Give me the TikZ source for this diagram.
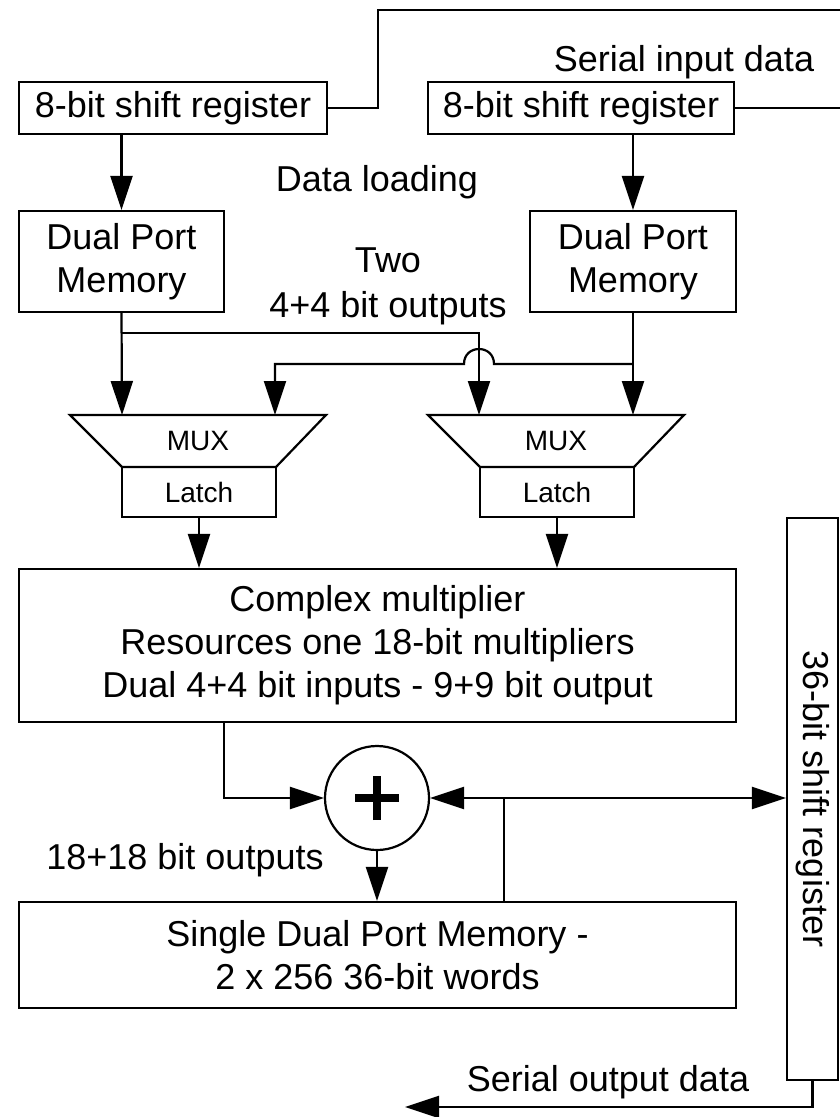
\documentclass[tikz,border=0pt]{standalone}
\usepackage{fontspec}
\setmainfont{Liberation Sans}
\usetikzlibrary{arrows.meta}
\tikzset{
  wire/.style={line width=2.2pt},
  arr/.style={wire,-{Triangle[length=34pt,width=22pt]}},
  box/.style={draw,line width=2.2pt,inner sep=0pt,align=center,font=\fontsize{36}{43}\selectfont},
  lbl/.style={inner sep=0pt,align=center,font=\fontsize{36}{45}\selectfont},
  small/.style={inner sep=0pt,font=\fontsize{28}{34}\selectfont}
}
\begin{document}
\begin{tikzpicture}[x=1pt,y=-1pt]
\useasboundingbox (0,0) rectangle (840,1117);
% boxes
\node[box,minimum width=308,minimum height=52] (sr1) at (173,108) {8-bit shift register};
\node[box,minimum width=306,minimum height=52] (sr2) at (581,108) {8-bit shift register};
\node[box,minimum width=205,minimum height=101] (dpm1) at (121.5,261.5) {Dual Port\\Memory};
\node[box,minimum width=206,minimum height=101] (dpm2) at (633,261.5) {Dual Port\\Memory};
% MUX trapezoids
\draw[wire] (70,415) -- (326,415) -- (276,467) -- (122,467) -- cycle;
\draw[wire] (428,415) -- (684,415) -- (634,467) -- (480,467) -- cycle;
\node[small] (mux1) at (198,441) {MUX};
\node[small] (mux2) at (556,441) {MUX};
\node[box,minimum width=154,minimum height=50,font=\fontsize{28}{34}\selectfont] (latch1) at (199,492) {Latch};
\node[box,minimum width=154,minimum height=50,font=\fontsize{28}{34}\selectfont] (latch2) at (557,492) {Latch};
\node[box,minimum width=717,minimum height=153] (mult) at (377.5,645.5) {Complex multiplier\\Resources one 18-bit multipliers\\Dual 4+4 bit inputs - 9+9 bit output};
\node[draw,circle,line width=2.2pt,minimum size=104,inner sep=0pt] (add) at (377,798) {};
\draw[line width=7.5pt] ([xshift=-22pt]add.center) -- ([xshift=22pt]add.center);
\draw[line width=7.5pt] ([yshift=-22pt]add.center) -- ([yshift=22pt]add.center);
\node[box,minimum width=717,minimum height=106] (sdpm) at (377.5,955) {Single Dual Port Memory -\\2 x 256 36-bit words};
\node[box,minimum width=51,minimum height=562] (sr36) at (812.5,799) {};
\node[lbl,rotate=-90] (sr36t) at (sr36.center) {36-bit shift register};
% labels
\node[lbl] (lin) at (684,62) {Serial input data};
\node[lbl] (lload) at (377,182) {Data loading};
\node[lbl] (ltwo) at (388,286) {Two\\4+4 bit outputs};
\node[lbl] (l18) at (185,860) {18+18 bit outputs};
\node[lbl] (lout) at (608,1082) {Serial output data};
% coordinates
\coordinate (tl) at (378,10);
\coordinate (tr) at (840,10);
\coordinate (rr) at (840,108);
\coordinate (m1a) at (122,415);
\coordinate (m1b) at (275,415);
\coordinate (m2a) at (479,415);
\coordinate (m2b) at (633,415);
\coordinate (j1) at (122,333);
\coordinate (j2) at (633,364);
\coordinate (mo) at (224,722);
\coordinate (fb) at (504,798);
\coordinate (out) at (405,1107);
% wires
\draw[wire] (sr1.east) -| (tl) -- (tr);
\draw[wire] (sr2.east) -- (rr);
\draw[arr] (dpm1.north |- sr1.south) -- (dpm1.north);
\draw[arr] (dpm2.north |- sr2.south) -- (dpm2.north);
\draw[arr] (dpm1.south) -- (m1a);
\draw[arr] (j1) -| (m2a);
\draw[arr] (dpm2.south) -- (m2b);
\draw[arr] (j2) -- (494,364) .. controls (494,344) and (464,344) .. (464,364) -- (m1b |- j2) -- (m1b);
\draw[arr] (latch1.south) -- (latch1.south |- mult.north);
\draw[arr] (latch2.south) -- (latch2.south |- mult.north);
\draw[arr] (mo) |- (add.west);
\draw[arr] (add.south) -- (add.south |- sdpm.north);
\draw[wire] (sdpm.north -| fb) -- (fb);
\draw[arr] (fb) -- (add.east);
\draw[arr] (fb) -- (sr36.west |- fb);
\draw[arr] (sr36.south) |- (out);
\end{tikzpicture}
\end{document}
